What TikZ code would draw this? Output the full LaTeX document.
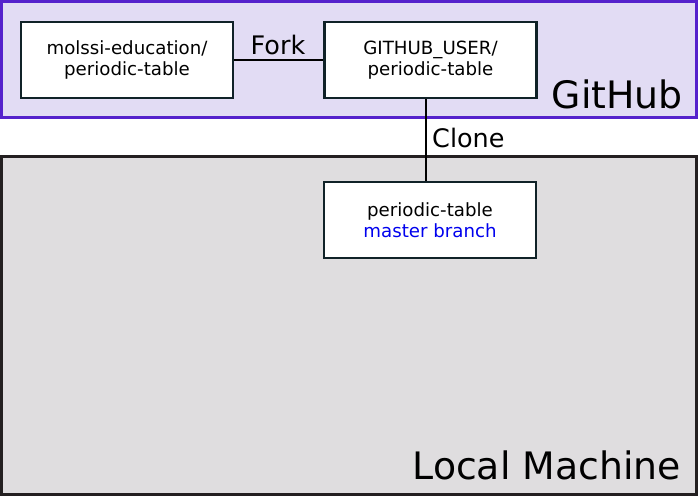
\documentclass[tikz,border=0pt]{standalone}
\usepackage{fontspec}
\setmainfont{DejaVu Sans}
\definecolor{ghfill}{HTML}{E2DCF4}
\definecolor{ghdraw}{HTML}{5522CC}
\definecolor{lmfill}{HTML}{DFDDDF}
\definecolor{lmdraw}{HTML}{231F20}
\definecolor{boxdraw}{HTML}{102228}
\definecolor{branchblue}{HTML}{0000EE}
\begin{document}
\begin{tikzpicture}[x=1pt,y=-1pt,
  region/.style={line width=3pt},
  repobox/.style={draw=boxdraw,fill=white,line width=2.4pt,minimum width=212pt,minimum height=76pt,align=center,font=\fontsize{18.2}{20.5}\selectfont,inner sep=0pt},
  link/.style={line width=2.4pt,black},
  biglabel/.style={font=\fontsize{37.8}{42}\selectfont,anchor=base east,inner sep=0pt},
  midlabel/.style={font=\fontsize{25.5}{28}\selectfont,inner sep=0pt}]
\useasboundingbox (0,0) rectangle (698,496);
\draw[region,draw=ghdraw,fill=ghfill] (1.5,1.5) rectangle (696.5,117);
\draw[region,draw=lmdraw,fill=lmfill] (1.5,156) rectangle (696.5,494.5);
\node[biglabel] (gh) at (683,108) {GitHub};
\node[biglabel] (lm) at (681,479) {Local Machine};
\node[repobox] (up) at (127,60) {molssi-education/\\periodic-table};
\node[repobox] (fork) at (430.5,60) {GITHUB\_USER/\\periodic-table};
\node[repobox] (local) at (430,220) {periodic-table\\\textcolor{branchblue}{master branch}};
\draw[link] (up.east) -- (fork.west);
\draw[link] ([xshift=-4.5pt]fork.south) -- ([xshift=-4pt]local.north);
\node[midlabel] (forklbl) at (278,45) {Fork};
\node[midlabel,anchor=west] (clonelbl) at (432,138) {Clone};
\end{tikzpicture}
\end{document}
